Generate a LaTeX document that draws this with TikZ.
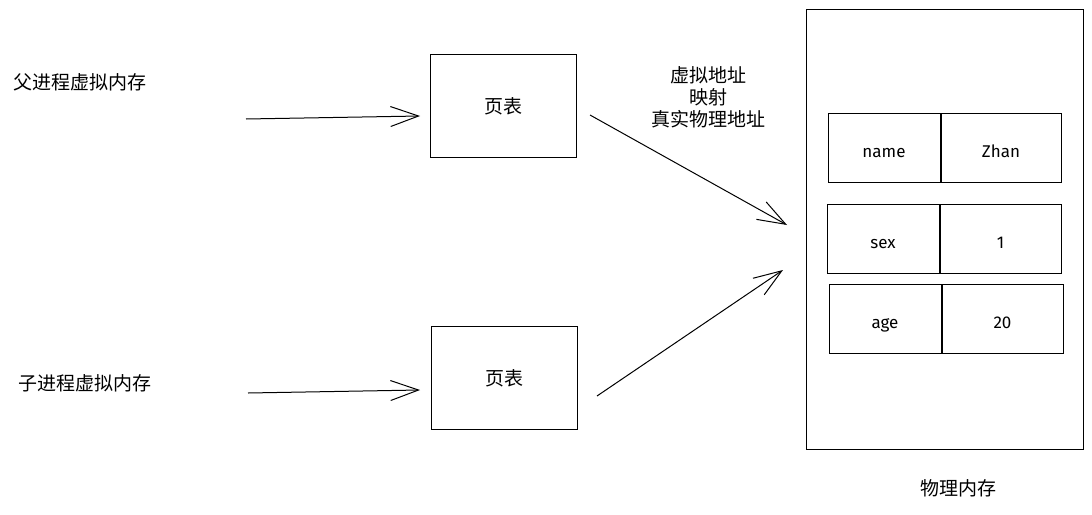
\documentclass[tikz,border=0pt]{standalone}
\usepackage{fontspec}
\setmainfont{Noto Sans CJK SC}
\newfontfamily\cellfont{Fira Sans}
\usetikzlibrary{arrows.meta,positioning}
\tikzset{
  pagebox/.style={draw,line width=1pt,minimum width=146pt,minimum height=103pt,font=\fontsize{19}{22}\selectfont},
  cellbox/.style={draw,line width=1pt,minimum height=69pt,text height=19pt,text depth=0pt,font=\cellfont\fontsize{17}{20}\selectfont},
  plain/.style={font=\fontsize{19}{22}\selectfont},
  maparrow/.style={line width=1pt,-{Straight Barb[length=28pt,width=20pt]}}
}
\begin{document}
\begin{tikzpicture}[x=1pt,y=-1pt]
	\useasboundingbox (0,0) rectangle (1092,514);
	% processes
	\node[plain] (parent) at (80,82) {父进程虚拟内存};
	\node[plain] (child) at (85,383) {子进程虚拟内存};
	\coordinate (parentstart) at (246,119);
	\coordinate (childstart) at (248,393);
	
	% page tables
	\node[pagebox] (ptparent) at (503,106) {页表};
	\node[pagebox] (ptchild) at (504,378) {页表};
	\coordinate (ptparentin) at (420,116);
	\coordinate (ptchildin) at (420,390);
	\coordinate (ptparentout) at (590,115);
	\coordinate (ptchildout) at (597,396);
	\draw[maparrow] (parentstart) -- (ptparentin);
	\draw[maparrow] (childstart) -- (ptchildin);
	
	\node[plain,align=center] (maplabel) at (708,97) {虚拟地址\\映射\\真实物理地址};
	
	% physical memory
	\node[draw,line width=1pt,minimum width=277pt,minimum height=440pt] (mem) at (944.5,229) {};
	\node[plain] (memlabel) at (958,488) {物理内存};
	\coordinate (memin) at (787,225);
	\coordinate (memin2) at (783,270);
	
	\node[cellbox,minimum width=112pt] (namek) at (884,147.5) {name};
	\node[cellbox,minimum width=120pt,right=0pt of namek] (namev) {Zhan};
	\node[cellbox,minimum width=112pt] (sexk) at (883,239) {sex};
	\node[cellbox,minimum width=121pt,right=0pt of sexk] (sexv) {1};
	\node[cellbox,minimum width=112pt] (agek) at (885,319) {age};
	\node[cellbox,minimum width=121pt,right=0pt of agek] (agev) {20};
	
	\draw[maparrow] (ptparentout) -- (memin);
	\draw[maparrow] (ptchildout) -- (memin2);
\end{tikzpicture}
\end{document}
